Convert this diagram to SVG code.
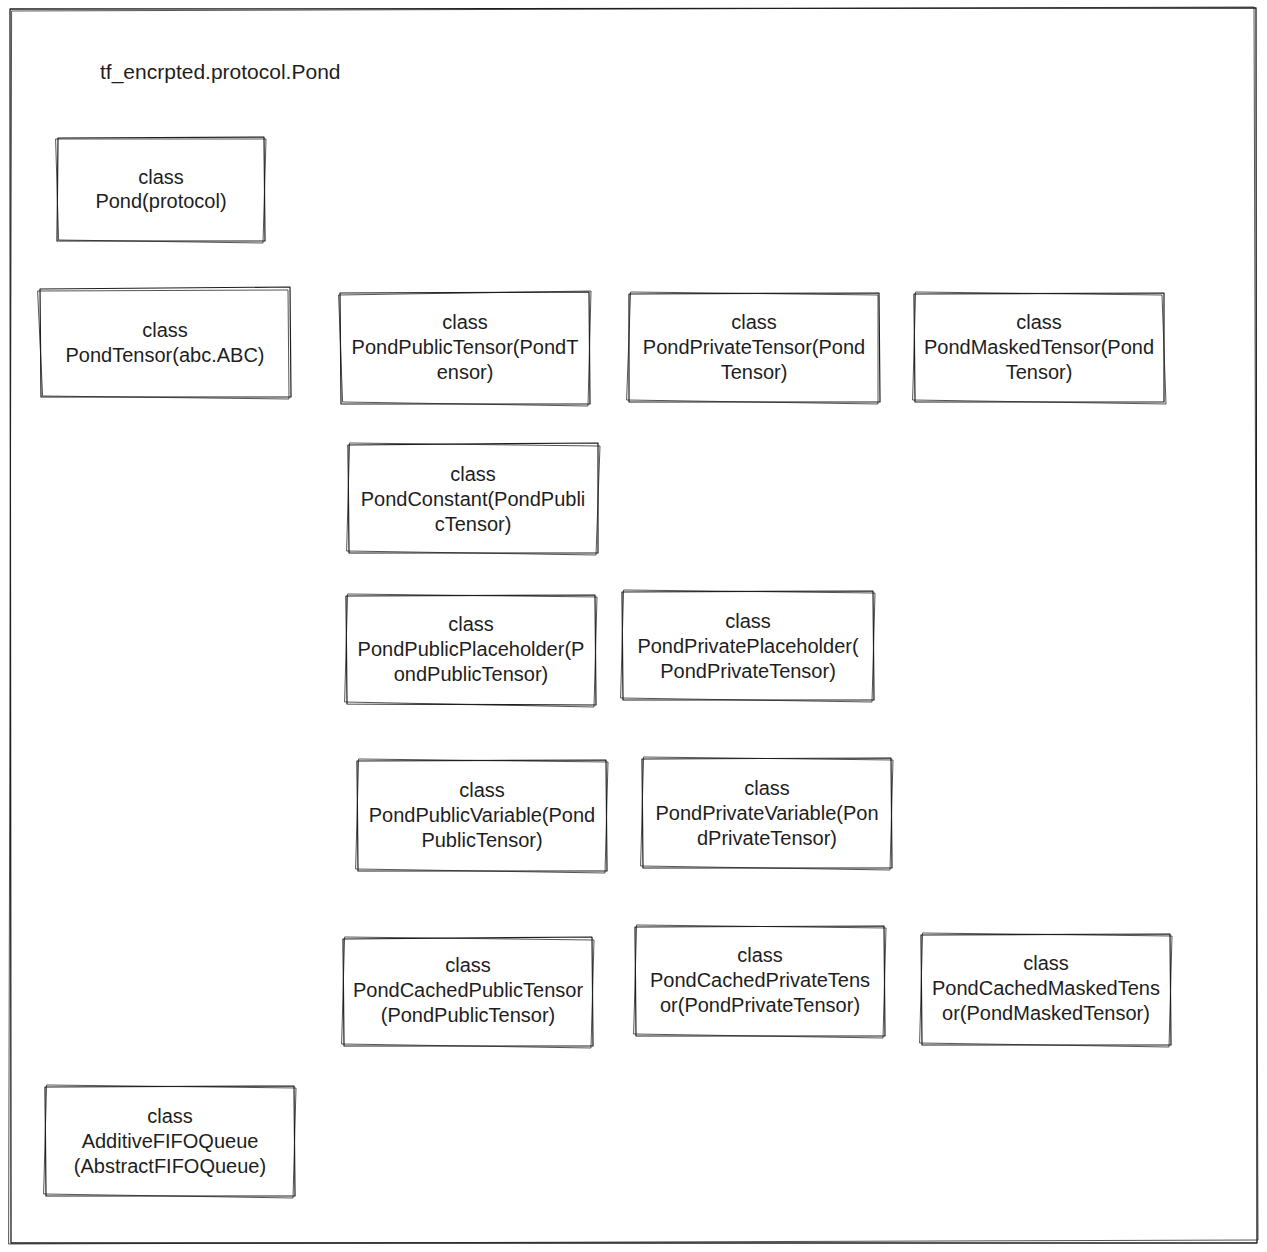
<svg xmlns="http://www.w3.org/2000/svg" width="1267" height="1252" viewBox="0 0 1267 1252">
<style>
.frame{fill:none;stroke:#1e1e1e;stroke-width:1.3;stroke-linecap:round;stroke-linejoin:round}
.b{fill:none;stroke:#1e1e1e;stroke-width:1.2;stroke-linecap:round;stroke-linejoin:round}
.b2{fill:none;stroke:#1e1e1e;stroke-width:0.9;stroke-linecap:round;opacity:0.85}
text{font-family:"Liberation Sans",Arial,sans-serif;font-size:20px;fill:#1e1e1e;text-anchor:middle}
.title{text-anchor:start;font-size:21px}
</style>
<rect width="1267" height="1252" fill="#ffffff"/>
<g id="frame">
<path class="frame" d="M10 9 L1256 8 L1257 1243 L11 1243 Z"/>
<path class="b2" d="M12 11 L1254 7 L1258 1240 L9 1244 Z"/>
</g>
<g id="title"><text class="title" x="100" y="79">tf_encrpted.protocol.Pond</text></g>
<g id="connectors"></g>
<g id="n1">
<path class="b" d="M58 138 L264 137 L265 241 L57 241 Z"/><path class="b2" d="M56 139 L266 139 L263 243 L59 240 Z"/>
<text x="161" y="184">class</text><text x="161" y="208">Pond(protocol)</text>
</g>
<g id="n2">
<path class="b" d="M40 289 L290 287 L291 397 L41 397 Z"/><path class="b2" d="M38 291 L288 290 L289 399 L43 396 Z"/>
<text x="165" y="337">class</text><text x="165" y="362">PondTensor(abc.ABC)</text>
</g>
<g id="n3">
<path class="b" d="M340 293 L589 292 L590 404 L341 404 Z"/><path class="b2" d="M339 295 L591 291 L588 406 L343 402 Z"/>
<text x="465" y="329">class</text><text x="465" y="354">PondPublicTensor(PondT</text><text x="465" y="379">ensor)</text>
</g>
<g id="n4">
<path class="b" d="M629 294 L879 293 L880 402 L629 402 Z"/><path class="b2" d="M631 292 L878 295 L878 404 L627 400 Z"/>
<text x="754" y="329">class</text><text x="754" y="354">PondPrivateTensor(Pond</text><text x="754" y="379">Tensor)</text>
</g>
<g id="n5">
<path class="b" d="M914 294 L1164 293 L1164 402 L915 402 Z"/><path class="b2" d="M916 292 L1162 295 L1166 404 L913 400 Z"/>
<text x="1039" y="329">class</text><text x="1039" y="354">PondMaskedTensor(Pond</text><text x="1039" y="379">Tensor)</text>
</g>
<g id="n6">
<path class="b" d="M348 445 L598 443 L598 553 L349 553 Z"/><path class="b2" d="M350 443 L600 446 L596 555 L347 551 Z"/>
<text x="473" y="481">class</text><text x="473" y="506">PondConstant(PondPubli</text><text x="473" y="531">cTensor)</text>
</g>
<g id="n7">
<path class="b" d="M346 596 L595 595 L596 705 L347 704 Z"/><path class="b2" d="M348 594 L597 597 L594 707 L345 702 Z"/>
<text x="471" y="631">class</text><text x="471" y="656">PondPublicPlaceholder(P</text><text x="471" y="681">ondPublicTensor)</text>
</g>
<g id="n8">
<path class="b" d="M622 592 L873 591 L874 700 L623 700 Z"/><path class="b2" d="M624 590 L875 593 L872 702 L621 698 Z"/>
<text x="748" y="628">class</text><text x="748" y="653">PondPrivatePlaceholder(</text><text x="748" y="678">PondPrivateTensor)</text>
</g>
<g id="n9">
<path class="b" d="M357 761 L606 760 L607 871 L358 871 Z"/><path class="b2" d="M359 759 L608 762 L605 873 L356 869 Z"/>
<text x="482" y="797">class</text><text x="482" y="822">PondPublicVariable(Pond</text><text x="482" y="847">PublicTensor)</text>
</g>
<g id="n10">
<path class="b" d="M642 759 L891 758 L892 868 L643 868 Z"/><path class="b2" d="M644 757 L893 760 L890 870 L641 866 Z"/>
<text x="767" y="795">class</text><text x="767" y="820">PondPrivateVariable(Pon</text><text x="767" y="845">dPrivateTensor)</text>
</g>
<g id="n11">
<path class="b" d="M343 939 L592 937 L593 1046 L344 1046 Z"/><path class="b2" d="M345 937 L594 940 L591 1048 L342 1044 Z"/>
<text x="468" y="972">class</text><text x="468" y="997">PondCachedPublicTensor</text><text x="468" y="1022">(PondPublicTensor)</text>
</g>
<g id="n12">
<path class="b" d="M635 927 L884 926 L885 1036 L636 1036 Z"/><path class="b2" d="M637 925 L886 928 L883 1038 L634 1034 Z"/>
<text x="760" y="962">class</text><text x="760" y="987">PondCachedPrivateTens</text><text x="760" y="1012">or(PondPrivateTensor)</text>
</g>
<g id="n13">
<path class="b" d="M921 935 L1170 934 L1171 1045 L922 1045 Z"/><path class="b2" d="M923 933 L1172 936 L1169 1047 L920 1043 Z"/>
<text x="1046" y="970">class</text><text x="1046" y="995">PondCachedMaskedTens</text><text x="1046" y="1020">or(PondMaskedTensor)</text>
</g>
<g id="n14">
<path class="b" d="M45 1087 L294 1086 L295 1196 L46 1196 Z"/><path class="b2" d="M47 1085 L296 1088 L293 1198 L44 1194 Z"/>
<text x="170" y="1123">class</text><text x="170" y="1148">AdditiveFIFOQueue</text><text x="170" y="1173">(AbstractFIFOQueue)</text>
</g>
</svg>
